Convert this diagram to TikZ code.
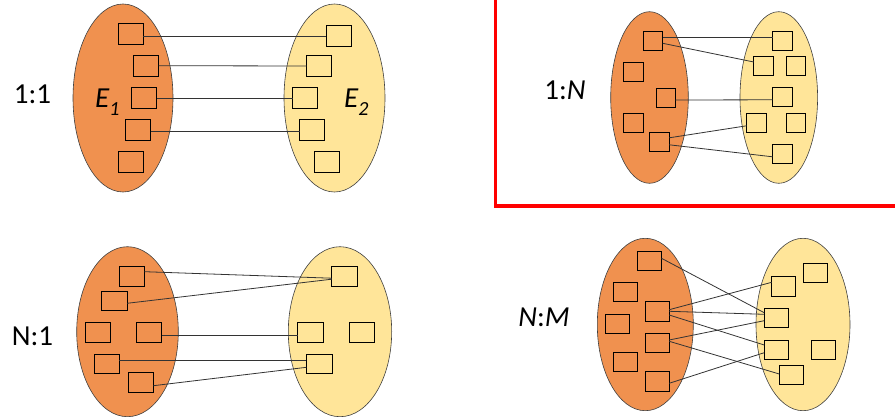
\documentclass[tikz,border=0pt]{standalone}
\usepackage{fontspec}
\setmainfont{Carlito}
\usetikzlibrary{shapes.geometric}
\definecolor{erorange}{HTML}{F0914F}
\definecolor{eryellow}{HTML}{FFE599}
\definecolor{ergray}{HTML}{404040}
\definecolor{erred}{HTML}{FF0000}

\begin{document}
\begin{tikzpicture}[
  x=1pt, y=-1pt,
  every node/.style={font=\fontsize{29}{33}\selectfont},
  entset/.style={ellipse, draw=ergray, line width=0.6pt, inner sep=0pt, outer sep=0pt},
  ent/.style={rectangle, draw=black, line width=0.9pt, inner sep=0pt, outer sep=0pt},
  link/.style={draw=black!80, line width=0.8pt},
  card/.style={inner sep=0pt},
]
\useasboundingbox (0,0) rectangle (895,417);

% 1:1
\node[entset, fill=erorange, minimum width=100pt, minimum height=188pt] (lA) at (123,98) {};
\node[entset, fill=eryellow, minimum width=101pt, minimum height=188pt] (rA) at (334.5,98) {};
\begin{scope}[every node/.append style={ent, minimum width=25pt, minimum height=21pt}]
\node (a1) at (130.5,34) {};
\node (a2) at (146,65.7) {};
\node (a3) at (144,98) {};
\node (a4) at (138,130) {};
\node (a5) at (130.7,161.7) {};
\node (b1) at (338.7,36) {};
\node (b2) at (319,66) {};
\node (b3) at (305,98) {};
\node (b4) at (312,130) {};
\node (b5) at (326.7,161.7) {};
\end{scope}
\draw[link] ([yshift=-2pt]a1.east) -- (b1.west);
\draw[link] (a2.east) -- (b2.west);
\draw[link] (a3.east) -- (b3.west);
\draw[link] ([yshift=-1.5pt]a4.east) -- ([yshift=-1.5pt]b4.west);
\node[card] (t11) at (32.5,94.7) {1:1};
\node[card, anchor=base west] (E1) at (95,107.3) {\itshape E\raisebox{-8.7pt}{\fontsize{20}{20}\selectfont 1}};
\node[card, anchor=base west] (E2) at (344,107.3) {\itshape E\raisebox{-8.7pt}{\fontsize{20}{20}\selectfont 2}};

% 1:N (framed)
\draw[erred, line width=3.5pt] (495.3,-5) |- (900,206);
\node[entset, fill=erorange, minimum width=77.6pt, minimum height=171.6pt] (lB) at (649.5,97.5) {};
\node[entset, fill=eryellow, minimum width=77.6pt, minimum height=171.6pt] (rB) at (778.8,97.5) {};
\begin{scope}[every node/.append style={ent, minimum width=19.5pt, minimum height=19pt}]
\node (c1) at (653,40.8) {};
\node (c2) at (633.5,72) {};
\node (c3) at (665.7,97.5) {};
\node (c4) at (633.5,123) {};
\node (c5) at (659.5,141.8) {};
\node (d1) at (782.3,40.8) {};
\node (d2) at (763.5,65.7) {};
\node (d3) at (795.8,65.7) {};
\node (d4) at (782.3,97.3) {};
\node (d5) at (756.3,122.8) {};
\node (d6) at (795.8,122.8) {};
\node (d7) at (782.3,153.8) {};
\end{scope}
\draw[link] ([yshift=3pt]c1.east) -- ([yshift=3pt]d1.west);
\draw[link] ([yshift=-2.5pt]c1.east) -- ([yshift=3.7pt]d2.west);
\draw[link] ([yshift=-2.5pt]c3.east) -- ([yshift=-2.5pt]d4.west);
\draw[link] ([yshift=4pt]c5.east) -- ([yshift=-3pt]d5.west);
\draw[link] ([yshift=-3pt]c5.east) -- ([yshift=-3pt]d7.west);
\node[card] (t1n) at (565,90) {1:\textit{N}};

% N:1
\node[entset, fill=erorange, minimum width=101.6pt, minimum height=170pt] (lC) at (127.5,331.7) {};
\node[entset, fill=eryellow, minimum width=103.4pt, minimum height=170pt] (rC) at (340,331.7) {};
\begin{scope}[every node/.append style={ent, minimum width=25.5pt, minimum height=19.5pt}]
\node (g1) at (131.7,276.2) {};
\node (g2) at (114.3,300.7) {};
\node (g3) at (98,332.5) {};
\node (g4) at (148.8,332.5) {};
\node (g5) at (106.7,363.7) {};
\node (g6) at (140.7,382.3) {};
\node (h1) at (344.5,276.2) {};
\node (h2) at (310.3,332.5) {};
\node (h3) at (361.8,332.5) {};
\node (h4) at (319.2,363.7) {};
\end{scope}
\draw[link] ([yshift=4.5pt]g1.east) -- ([yshift=-2pt]h1.west);
\draw[link] ([yshift=-2.6pt]g2.east) -- ([yshift=-3pt]h1.west);
\draw[link] ([yshift=-3pt]g4.east) -- ([yshift=-3pt]h2.west);
\draw[link] ([yshift=3pt]g5.east) -- ([yshift=3pt]h4.west);
\draw[link] ([yshift=-3.4pt]g6.east) -- ([yshift=-3.6pt]h4.west);
\node[card] (tn1) at (32.5,336) {N:1};

% N:M
\node[entset, fill=erorange, minimum width=96pt, minimum height=172.4pt] (lD) at (645.3,324.5) {};
\node[entset, fill=eryellow, minimum width=94pt, minimum height=172.4pt] (rD) at (803,324.5) {};
\begin{scope}[every node/.append style={ent, minimum width=24pt, minimum height=19.3pt}]
\node (m1) at (649.5,260.7) {};
\node (m2) at (625.3,292) {};
\node (m3) at (617.3,323.8) {};
\node (m4) at (657.2,311.3) {};
\node (m5) at (657.2,342.8) {};
\node (m6) at (625.3,362.2) {};
\node (m7) at (657.2,381.3) {};
\node (n1) at (815.5,273) {};
\node (n2) at (783.7,286.3) {};
\node (n3) at (776.2,318) {};
\node (n4) at (776.2,349.7) {};
\node (n5) at (823,349.7) {};
\node (n6) at (791.3,375.2) {};
\end{scope}
\draw[link] ([yshift=2.4pt]m1.east) -- ([yshift=5.3pt]n3.west);
\draw[link] ([yshift=1.6pt]m4.east) -- ([yshift=4pt]n2.west);
\draw[link] (m4.east) -- ([yshift=3.7pt]n3.west);
\draw[link] ([yshift=-3.7pt]m4.east) -- ([yshift=4.7pt]n4.west);
\draw[link] ([yshift=2.8pt]m5.east) -- ([yshift=-2.7pt]n3.west);
\draw[link] ([yshift=1.5pt]m5.east) -- ([yshift=1.2pt]n6.west);
\draw[link] ([yshift=-2pt]m7.east) -- ([yshift=-3pt]n4.west);
\node[card] (tnm) at (544,317) {\textit{N}:\textit{M}};

\end{tikzpicture}
\end{document}
